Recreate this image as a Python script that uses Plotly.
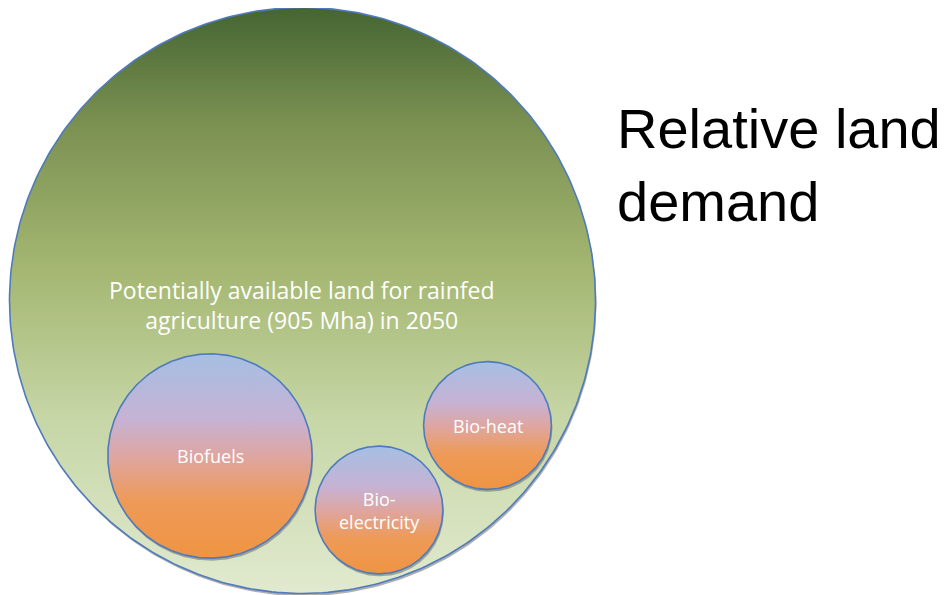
import numpy as np
import plotly.graph_objects as go

# Land areas (Mha) - circle areas are proportional to these
categories = ["Potentially available land for rainfed<br>agriculture (905 Mha) in 2050",
              "Biofuels", "Bio-<br>electricity", "Bio-heat"]
areas_mha = [905, 110, 43, 43]

# where each circle sits on the page (x, y with y going up)
centres = [(302.5, 294.5), (210, 139), (379, 85), (487.5, 169.5)]
label_pos = [(302, 290), (210, 139), (379, 85), (487.5, 169.5)]
scale = 293 / np.sqrt(905)   # radius per sqrt(Mha)

green_scale = [[0, "#e1eacf"], [0.3, "#c6d6a6"], [0.55, "#a5b772"],
               [0.8, "#7b9152"], [1, "#456532"]]
bio_scale = [[0, "#ef9442"], [0.28, "#ee9a58"], [0.5, "#dea6a2"],
             [0.68, "#c6b2d4"], [1, "#a5bfe3"]]

fig = go.Figure()
theta = np.linspace(0, 2 * np.pi, 361)

for i, (name, area) in enumerate(zip(categories, areas_mha)):
    cx, cy = centres[i]
    r = scale * np.sqrt(area)
    xs = cx + r * np.cos(theta)
    ys = cy + r * np.sin(theta)
    # soft shadow
    fig.add_trace(go.Scatter(x=xs + 1, y=ys - 2.5, mode="lines", fill="toself",
                             fillcolor="rgba(110,110,110,0.55)",
                             line=dict(width=0), hoverinfo="skip"))
    fig.add_trace(go.Scatter(
        x=xs, y=ys, mode="lines", fill="toself",
        fillgradient=dict(type="vertical",
                          colorscale=green_scale if i == 0 else bio_scale),
        line=dict(color="#4f7bbd", width=1.6), name=name, hoverinfo="skip"))

sizes = [23, 18, 18, 18]
for i, name in enumerate(categories):
    lx, ly = label_pos[i]
    fig.add_annotation(x=lx, y=ly, text=name, showarrow=False,
                       font=dict(family="Open Sans", size=sizes[i], color="white"),
                       align="center")

fig.add_annotation(x=615, y=500, text="Relative land<br>demand", showarrow=False,
                   xanchor="left", yanchor="top", align="left",
                   font=dict(family="Liberation Sans, Arial", size=56, color="black"))

# page body has an 8px margin, so the figure is a bit smaller than the window
fig.update_layout(
    width=939, height=587, margin=dict(l=0, r=0, t=0, b=0),
    showlegend=False, plot_bgcolor="white", paper_bgcolor="white",
    xaxis=dict(range=[8, 947], visible=False, fixedrange=True),
    yaxis=dict(range=[0, 587], visible=False, fixedrange=True),
)

fig.write_html("out.html")
